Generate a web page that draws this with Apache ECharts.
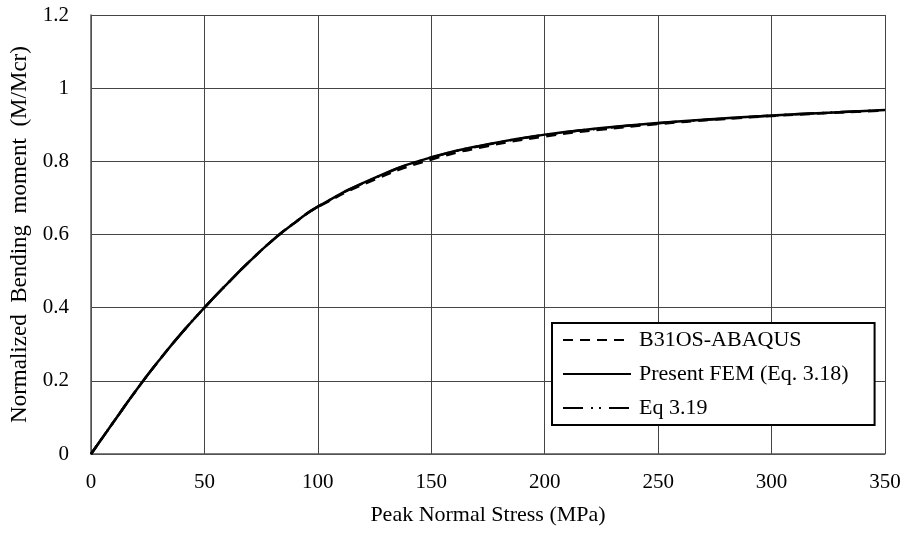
<!DOCTYPE html>
<html>
<head>
<meta charset="utf-8">
<script src="https://cdn.jsdelivr.net/npm/echarts@6/dist/echarts.min.js"></script>
<style>
  html, body { margin: 0; padding: 0; background: #fff; }
  #chart { width: 904px; height: 533px; }
</style>
</head>
<body>
<div id="chart"></div>
<script>
// peak normal stress (MPa)
var stress = [0, 10, 20, 30, 40, 50, 60, 70, 80, 90, 100, 125, 150, 175, 200, 225, 250, 275, 300, 325, 350]
// normalized bending moment M/Mcr
var abaqus = [0, 0.088, 0.175, 0.256, 0.331, 0.400, 0.465, 0.527, 0.584, 0.633, 0.675, 0.750, 0.805, 0.842, 0.868, 0.887, 0.902, 0.914, 0.924, 0.932, 0.939]
var presentFem = [0, 0.088, 0.175, 0.256, 0.331, 0.400, 0.465, 0.527, 0.584, 0.633, 0.676, 0.755, 0.811, 0.847, 0.873, 0.891, 0.905, 0.916, 0.925, 0.933, 0.940]
var eq319 = [0, 0.088, 0.175, 0.256, 0.331, 0.400, 0.465, 0.527, 0.584, 0.633, 0.676, 0.754, 0.810, 0.846, 0.872, 0.890, 0.904, 0.915, 0.925, 0.933, 0.940]

function pairs(ys) {
  return stress.map(function (x, i) { return [x, ys[i]] })
}

var chart = echarts.init(document.getElementById('chart'))
var font = 'Liberation Serif, Times New Roman, serif'

chart.setOption({
  animation: false,
  textStyle: { fontFamily: font },
  grid: { left: 90, right: 19, top: 15, bottom: 79 },
  legend: {
    orient: 'vertical',
    left: 552,
    top: 323,
    padding: [6, 26, 6, 10],
    itemWidth: 68,
    itemHeight: 14,
    itemGap: 12,
    borderColor: '#000',
    borderWidth: 2,
    borderRadius: 0,
    backgroundColor: '#fff',
    itemStyle: { opacity: 0 },
    textStyle: { fontFamily: font, fontSize: 22, color: '#000', padding: [0, 0, 0, 3] },
    data: ['B31OS-ABAQUS', 'Present FEM (Eq. 3.18)', 'Eq 3.19']
  },
  xAxis: {
    type: 'value',
    min: 0,
    max: 350,
    interval: 50,
    name: 'Peak Normal Stress (MPa)',
    nameLocation: 'middle',
    nameGap: 50,
    nameMoveOverlap: false,
    nameTextStyle: { fontFamily: font, fontSize: 22, color: '#000' },
    axisLine: { lineStyle: { color: '#555', width: 1.5 } },
    axisTick: { show: false },
    axisLabel: { fontFamily: font, fontSize: 21, color: '#000', margin: 18 },
    splitLine: { show: true, lineStyle: { color: '#444', width: 1 } }
  },
  yAxis: {
    type: 'value',
    min: 0,
    max: 1.2,
    interval: 0.2,
    name: 'Normalized  Bending  moment  (M/Mcr)',
    nameLocation: 'middle',
    nameGap: 60,
    nameMoveOverlap: false,
    nameTextStyle: { fontFamily: font, fontSize: 23, color: '#000' },
    axisLine: { show: true, lineStyle: { color: '#555', width: 1.5 } },
    axisTick: { show: false },
    axisLabel: { fontFamily: font, fontSize: 21, color: '#000', margin: 22,
      formatter: function (v) { return String(+v.toFixed(1)) } },
    splitLine: { show: true, lineStyle: { color: '#444', width: 1 } }
  },
  series: [
    {
      name: 'B31OS-ABAQUS', type: 'line', data: pairs(abaqus), smooth: true,
      symbol: 'none', color: '#000', z: 3,
      lineStyle: { color: '#000', width: 2.5, type: [10, 7] }
    },
    {
      name: 'Present FEM (Eq. 3.18)', type: 'line', data: pairs(presentFem), smooth: true,
      symbol: 'none', color: '#000', z: 4,
      lineStyle: { color: '#000', width: 2.5, type: 'solid' }
    },
    {
      name: 'Eq 3.19', type: 'line', data: pairs(eq319), smooth: true,
      symbol: 'none', color: '#000', z: 5,
      lineStyle: { color: '#000', width: 2.5, type: [20, 8, 2, 6, 2, 8] }
    }
  ]
})
</script>
</body>
</html>
